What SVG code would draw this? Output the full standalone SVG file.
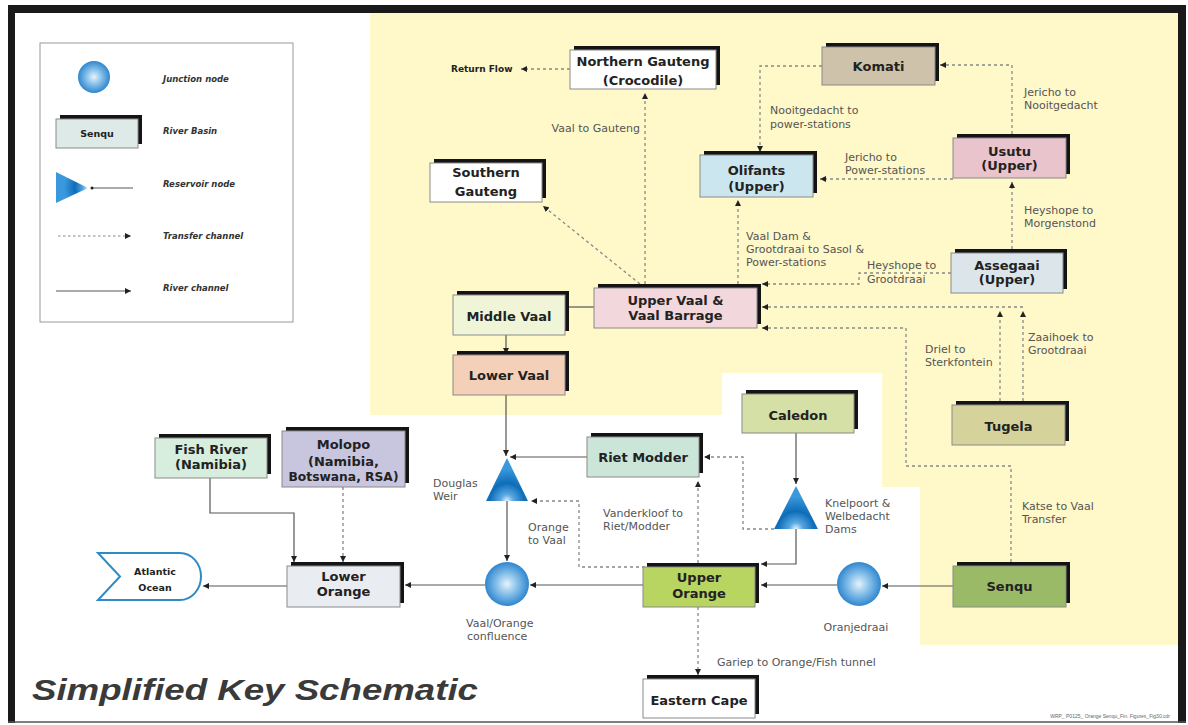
<svg xmlns="http://www.w3.org/2000/svg" width="1188" height="725" viewBox="0 0 1188 725">
<style>
.sh{fill:#141414}
.bx{stroke:#8a8a8a;stroke-width:1}
.nt{font-family:"DejaVu Sans",sans-serif;font-weight:bold;font-size:13px;fill:#222;text-anchor:middle}
.lb{font-family:"DejaVu Sans",sans-serif;font-size:11px;fill:#555}
.lg{font-family:"DejaVu Sans",sans-serif;font-weight:bold;font-style:italic;font-size:8.5px;fill:#333}
.rv{fill:none;stroke:#555;stroke-width:1.2}
.tr{fill:none;stroke:#888;stroke-width:1.3;stroke-dasharray:3 3}
</style>
<defs>
<marker id="ah" markerUnits="userSpaceOnUse" markerWidth="7" markerHeight="6" refX="6" refY="3" orient="auto">
<path d="M0,0 L6,3 L0,6 Z" fill="#222"/>
</marker>
<radialGradient id="jg" cx="0.5" cy="0.5" r="0.5">
<stop offset="0" stop-color="#E6F3FB"/>
<stop offset="0.45" stop-color="#8CC3EA"/>
<stop offset="1" stop-color="#2F86CF"/>
</radialGradient>
<radialGradient id="tg" cx="0.5" cy="1" r="0.75">
<stop offset="0" stop-color="#E9F4FC"/>
<stop offset="0.2" stop-color="#5AA9E2"/>
<stop offset="0.55" stop-color="#0E6DB8"/>
<stop offset="1" stop-color="#3A98DC"/>
</radialGradient>
<radialGradient id="tgl" cx="1" cy="0.5" r="0.75">
<stop offset="0" stop-color="#E9F4FC"/>
<stop offset="0.2" stop-color="#5AA9E2"/>
<stop offset="0.55" stop-color="#0E6DB8"/>
<stop offset="1" stop-color="#3A98DC"/>
</radialGradient>
</defs>

<rect x="0" y="0" width="1188" height="725" fill="#fff"/>
<polygon points="370,13 1178,13 1178,645 920,645 920,487 882,487 882,373 722,373 722,415 370,415" fill="#FFF8C8"/>

<!-- frame -->
<g id="frame">
<rect x="8" y="5" width="1178" height="8" fill="#1a1a1a"/>
<rect x="8" y="5" width="7" height="718" fill="#1a1a1a"/>
<rect x="1178" y="5" width="8" height="718" fill="#1a1a1a"/>
<line x1="8" y1="722" x2="1186" y2="722" stroke="#555" stroke-width="1.5"/>
</g>

<!-- legend -->
<g id="legend">
<rect x="40" y="43" width="253" height="279" fill="#fff" stroke="#999" stroke-width="1"/>
<circle cx="94" cy="77" r="16" fill="url(#jg)"/>
<text class="lg" x="163" y="82">Junction node</text>
<rect class="sh" x="60" y="115" width="82" height="29"/>
<rect class="bx" x="56" y="119" width="82" height="29" fill="#DDEAE8"/>
<text x="97" y="137" style="font-family:'DejaVu Sans',sans-serif;font-weight:bold;font-size:9.5px;fill:#222;text-anchor:middle">Senqu</text>
<text class="lg" x="163" y="134">River Basin</text>
<polygon points="56,172 88,188 56,203" fill="url(#tgl)"/>
<line x1="133" y1="188" x2="91" y2="188" stroke="#555" stroke-width="1"/>
<circle cx="92" cy="188" r="1.5" fill="#222"/>
<text class="lg" x="163" y="187">Reservoir node</text>
<line x1="58" y1="236" x2="131" y2="236" stroke="#888" stroke-width="1.2" stroke-dasharray="2.5 2.5" marker-end="url(#ah)"/>
<text class="lg" x="163" y="239">Transfer channel</text>
<line x1="56" y1="291" x2="131" y2="291" stroke="#555" stroke-width="1" marker-end="url(#ah)"/>
<text class="lg" x="163" y="291">River channel</text>
</g>

<!-- connectors -->
<g id="connectors">
<path class="rv" d="M565,307 H594"/>
<path class="rv" d="M506,335 V354" marker-end="url(#ah)"/>
<path class="rv" d="M506,395 V456" marker-end="url(#ah)"/>
<path class="rv" d="M587,457 H510" marker-end="url(#ah)"/>
<path class="rv" d="M507,501 V561" marker-end="url(#ah)"/>
<path class="rv" d="M796,433 V484" marker-end="url(#ah)"/>
<path class="rv" d="M796,529 V564 H761" marker-end="url(#ah)"/>
<path class="rv" d="M953,586 H882" marker-end="url(#ah)"/>
<path class="rv" d="M837,585 H761" marker-end="url(#ah)"/>
<path class="rv" d="M643,585 H530" marker-end="url(#ah)"/>
<path class="rv" d="M485,585 H405" marker-end="url(#ah)"/>
<path class="rv" d="M287,586 H203" marker-end="url(#ah)"/>
<path class="rv" d="M210,478 V513 H294 V562" marker-end="url(#ah)"/>

<path class="tr" d="M343,487 V562" marker-end="url(#ah)"/>
<path class="tr" d="M570,69 H521" marker-end="url(#ah)"/>
<path class="tr" d="M645,284 V93" marker-end="url(#ah)"/>
<path class="tr" d="M640,284 L543,206" marker-end="url(#ah)"/>
<path class="tr" d="M738,284 V200" marker-end="url(#ah)"/>
<path class="tr" d="M822,66 H760 V152" marker-end="url(#ah)"/>
<path class="tr" d="M1012,134 V65 H940" marker-end="url(#ah)"/>
<path class="tr" d="M953,179 H820" marker-end="url(#ah)"/>
<path class="tr" d="M1012,249 V182" marker-end="url(#ah)"/>
<path class="tr" d="M951,273 H859 V284 H762" marker-end="url(#ah)"/>
<path class="tr" d="M1023,307 H762" marker-end="url(#ah)"/>
<path class="tr" d="M1000,401 V311" marker-end="url(#ah)"/>
<path class="tr" d="M1023,401 V311" marker-end="url(#ah)"/>
<path class="tr" d="M1011,562 V466 H906 V328 H762" marker-end="url(#ah)"/>
<path class="tr" d="M698,563 V481" marker-end="url(#ah)"/>
<path class="tr" d="M645,567 H579 V501 H531" marker-end="url(#ah)"/>
<path class="tr" d="M774,529 H743 V457 H704" marker-end="url(#ah)"/>
<path class="tr" d="M698,607 V675" marker-end="url(#ah)"/>
</g>

<!-- connector labels -->
<g id="labels">
<text x="451" y="72" style="font-family:'DejaVu Sans',sans-serif;font-weight:bold;font-size:9px;fill:#222">Return Flow</text>
<text class="lb" x="640" y="132" text-anchor="end">Vaal to Gauteng</text>
<text class="lb" x="770" y="114">Nooitgedacht to</text>
<text class="lb" x="770" y="128">power-stations</text>
<text class="lb" x="1024" y="96">Jericho to</text>
<text class="lb" x="1024" y="109">Nooitgedacht</text>
<text class="lb" x="845" y="161">Jericho to</text>
<text class="lb" x="845" y="174">Power-stations</text>
<text class="lb" x="1024" y="214">Heyshope to</text>
<text class="lb" x="1024" y="227">Morgenstond</text>
<text class="lb" x="746" y="240">Vaal Dam &amp;</text>
<text class="lb" x="746" y="253">Grootdraai to Sasol &amp;</text>
<text class="lb" x="746" y="266">Power-stations</text>
<text class="lb" x="867" y="269">Heyshope to</text>
<text class="lb" x="867" y="283">Grootdraai</text>
<text class="lb" x="925" y="353">Driel to</text>
<text class="lb" x="925" y="366">Sterkfontein</text>
<text class="lb" x="1028" y="341">Zaaihoek to</text>
<text class="lb" x="1028" y="354">Grootdraai</text>
<text class="lb" x="1022" y="510">Katse to Vaal</text>
<text class="lb" x="1022" y="523">Transfer</text>
<text class="lb" x="603" y="517">Vanderkloof to</text>
<text class="lb" x="603" y="530">Riet/Modder</text>
<text class="lb" x="528" y="531">Orange</text>
<text class="lb" x="528" y="544">to Vaal</text>
<text class="lb" x="717" y="666">Gariep to Orange/Fish tunnel</text>
</g>

<!-- junction & reservoir nodes -->
<g id="douglas-weir">
<polygon points="507,458 528,501 486,501" fill="url(#tg)"/>
<text class="lb" x="433" y="487">Douglas</text>
<text class="lb" x="433" y="500">Weir</text>
</g>
<g id="knelpoort">
<polygon points="796,486 818,529 774,529" fill="url(#tg)"/>
<text class="lb" x="825" y="507">Knelpoort &amp;</text>
<text class="lb" x="825" y="520">Welbedacht</text>
<text class="lb" x="825" y="533">Dams</text>
</g>
<g id="confluence">
<circle cx="507" cy="584" r="22" fill="url(#jg)"/>
<text class="lb" x="466" y="627">Vaal/Orange</text>
<text class="lb" x="467" y="640">confluence</text>
</g>
<g id="oranjedraai">
<circle cx="859" cy="584" r="22" fill="url(#jg)"/>
<text class="lb" x="856" y="631" text-anchor="middle">Oranjedraai</text>
</g>

<!-- river basin nodes -->
<g id="northern-gauteng">
<rect class="sh" x="574" y="46" width="146" height="39"/>
<rect class="bx" x="570" y="50" width="146" height="39" fill="#fff"/>
<text class="nt" x="643" y="65.5">Northern Gauteng</text>
<text class="nt" x="643" y="84.5">(Crocodile)</text>
</g>
<g id="komati">
<rect class="sh" x="826" y="43" width="113" height="38"/>
<rect class="bx" x="822" y="47" width="113" height="38" fill="#CEC2AA"/>
<text class="nt" x="878.5" y="70.5">Komati</text>
</g>
<g id="southern-gauteng">
<rect class="sh" x="434" y="159" width="112" height="39"/>
<rect class="bx" x="430" y="163" width="112" height="39" fill="#fff"/>
<text class="nt" x="486" y="177">Southern</text>
<text class="nt" x="486" y="196">Gauteng</text>
</g>
<g id="olifants">
<rect class="sh" x="704" y="151" width="113" height="42"/>
<rect class="bx" x="700" y="155" width="113" height="42" fill="#CCE6EF"/>
<text class="nt" x="756.5" y="174.5">Olifants</text>
<text class="nt" x="756.5" y="191">(Upper)</text>
</g>
<g id="usutu">
<rect class="sh" x="957" y="134" width="113" height="40"/>
<rect class="bx" x="953" y="138" width="113" height="40" fill="#E9C4CC"/>
<text class="nt" x="1009.5" y="156">Usutu</text>
<text class="nt" x="1009.5" y="170">(Upper)</text>
</g>
<g id="assegaai">
<rect class="sh" x="955" y="249" width="112" height="40"/>
<rect class="bx" x="951" y="253" width="112" height="40" fill="#DCE6EA"/>
<text class="nt" x="1007" y="269.5">Assegaai</text>
<text class="nt" x="1007" y="284">(Upper)</text>
</g>
<g id="upper-vaal">
<rect class="sh" x="598" y="284" width="163" height="40"/>
<rect class="bx" x="594" y="288" width="163" height="40" fill="#F2D8DC"/>
<text class="nt" x="675.5" y="304.5">Upper Vaal &amp;</text>
<text class="nt" x="675.5" y="319.5">Vaal Barrage</text>
</g>
<g id="middle-vaal">
<rect class="sh" x="457" y="291" width="112" height="40"/>
<rect class="bx" x="453" y="295" width="112" height="40" fill="#F1F5D8"/>
<text class="nt" x="509" y="320.5">Middle Vaal</text>
</g>
<g id="lower-vaal">
<rect class="sh" x="457" y="351" width="112" height="40"/>
<rect class="bx" x="453" y="355" width="112" height="40" fill="#F3D0B7"/>
<text class="nt" x="509" y="380">Lower Vaal</text>
</g>
<g id="caledon">
<rect class="sh" x="746" y="390" width="112" height="39"/>
<rect class="bx" x="742" y="394" width="112" height="39" fill="#D4E0A6"/>
<text class="nt" x="798" y="420">Caledon</text>
</g>
<g id="riet-modder">
<rect class="sh" x="591" y="433" width="112" height="40"/>
<rect class="bx" x="587" y="437" width="112" height="40" fill="#CCE5D9"/>
<text class="nt" x="643" y="461.5">Riet Modder</text>
</g>
<g id="tugela">
<rect class="sh" x="956" y="401" width="113" height="40"/>
<rect class="bx" x="952" y="405" width="113" height="40" fill="#D5D29C"/>
<text class="nt" x="1008.5" y="430.5">Tugela</text>
</g>
<g id="senqu">
<rect class="sh" x="957" y="562" width="113" height="41"/>
<rect class="bx" x="953" y="566" width="113" height="41" fill="#9BBA68"/>
<text class="nt" x="1009.5" y="590.5">Senqu</text>
</g>
<g id="upper-orange">
<rect class="sh" x="647" y="563" width="112" height="40"/>
<rect class="bx" x="643" y="567" width="112" height="40" fill="#B8D461"/>
<text class="nt" x="699" y="581.5">Upper</text>
<text class="nt" x="699" y="598">Orange</text>
</g>
<g id="eastern-cape">
<rect class="sh" x="647" y="675" width="112" height="39"/>
<rect class="bx" x="643" y="679" width="112" height="39" fill="#fff"/>
<text class="nt" x="699" y="704.5">Eastern Cape</text>
</g>
<g id="lower-orange">
<rect class="sh" x="291" y="562" width="113" height="41"/>
<rect class="bx" x="287" y="566" width="113" height="41" fill="#E9ECF1"/>
<text class="nt" x="343.5" y="581">Lower</text>
<text class="nt" x="343.5" y="596">Orange</text>
</g>
<g id="fish-river">
<rect class="sh" x="159" y="434" width="112" height="40"/>
<rect class="bx" x="155" y="438" width="112" height="40" fill="#D7EEDF"/>
<text class="nt" x="211" y="453.5">Fish River</text>
<text class="nt" x="211" y="468.5">(Namibia)</text>
</g>
<g id="molopo">
<rect class="sh" x="286" y="427" width="123" height="56"/>
<rect class="bx" x="282" y="431" width="123" height="56" fill="#C8C5DE"/>
<text class="nt" x="343.5" y="449">Molopo</text>
<text class="nt" x="343.5" y="465.5">(Namibia,</text>
<text class="nt" x="343.5" y="481" textLength="110" lengthAdjust="spacingAndGlyphs">Botswana, RSA)</text>
</g>
<g id="atlantic-ocean">
<path d="M98,553 H180 A21 23.5 0 0 1 180,600 H98 L120,576.5 Z" fill="#fff" stroke="#2E8BC8" stroke-width="2"/>
<text x="155" y="575" style="font-family:'DejaVu Sans',sans-serif;font-weight:bold;font-size:9.5px;fill:#222;text-anchor:middle">Atlantic</text>
<text x="155" y="591" style="font-family:'DejaVu Sans',sans-serif;font-weight:bold;font-size:9.5px;fill:#222;text-anchor:middle">Ocean</text>
</g>

<!-- title & footer -->
<text x="32" y="700" textLength="446" lengthAdjust="spacingAndGlyphs" style="font-family:'Liberation Sans',Arial,sans-serif;font-weight:bold;font-style:italic;font-size:30px;fill:#3a3a3a">Simplified Key Schematic</text>
<text x="1170" y="718" text-anchor="end" style="font-family:'Liberation Sans',Arial,sans-serif;font-size:5px;fill:#666">WRP_ P0125_ Orange Senqu_Fin. Figures_Fig30.cdr</text>
</svg>
